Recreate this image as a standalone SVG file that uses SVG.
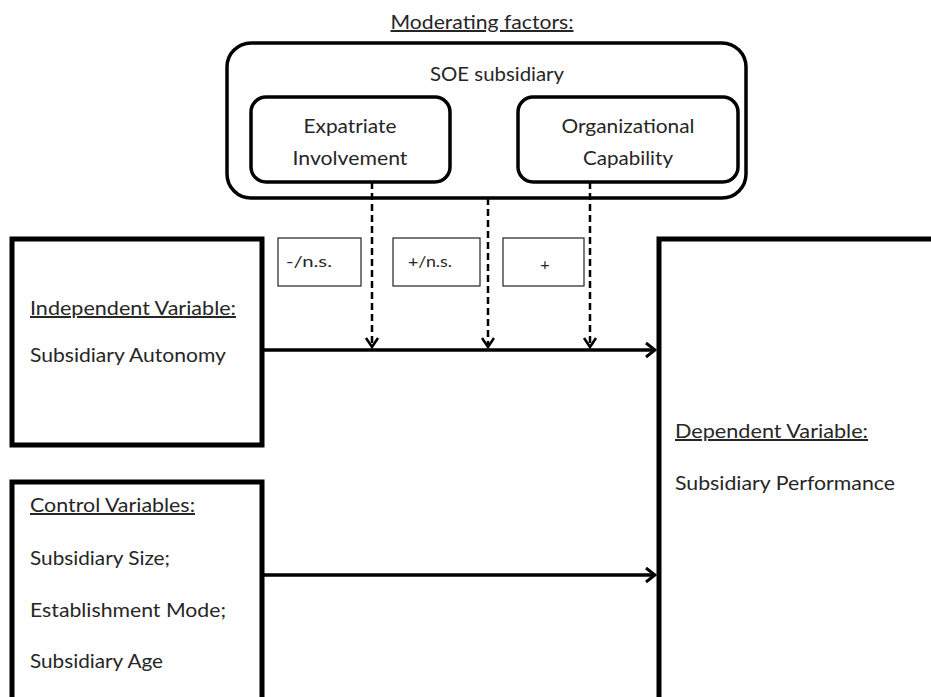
<svg xmlns="http://www.w3.org/2000/svg" width="931" height="697" viewBox="0 0 931 697">
<style>
  text { font-family: Lato, "Open Sans", "Liberation Sans", sans-serif; font-size: 20px; fill: #262626; }
  .small { font-size: 16px; }
  .ul { text-decoration: underline; }
  .mid { text-anchor: middle; }
  .thick { fill: none; stroke: #000; stroke-width: 5; }
  .round { fill: none; stroke: #000; stroke-width: 3.5; }
  .label { fill: #fff; stroke: #222; stroke-width: 1.2; }
  .solid { fill: none; stroke: #000; stroke-width: 3.5; }
  .dash { fill: none; stroke: #000; stroke-width: 2.5; stroke-dasharray: 7 4; }
</style>
<defs>
  <marker id="arrow" viewBox="-12 -10 14 20" refX="0" refY="0" markerWidth="14" markerHeight="20" markerUnits="userSpaceOnUse" orient="auto">
    <path d="M-9,-7 L0,0 L-9,7" fill="none" stroke="#000" stroke-width="3"/>
  </marker>
  <marker id="darrow" viewBox="-12 -10 14 20" refX="0" refY="0" markerWidth="14" markerHeight="20" markerUnits="userSpaceOnUse" orient="auto">
    <path d="M-9,-6 L0,0 L-9,6" fill="none" stroke="#000" stroke-width="2.5"/>
  </marker>
</defs>
<rect width="931" height="697" fill="#fff"/>

<text id="title" x="482" y="29" class="mid ul" textLength="183" lengthAdjust="spacingAndGlyphs">Moderating factors:</text>

<g id="soe">
  <rect x="227" y="43" width="519" height="155" rx="24" class="round"/>
  <text x="497" y="81" class="mid" textLength="134" lengthAdjust="spacingAndGlyphs">SOE subsidiary</text>
</g>
<g id="expatriate">
  <rect x="251" y="97" width="199" height="85" rx="15" class="round"/>
  <text x="350" y="133" class="mid" textLength="93" lengthAdjust="spacingAndGlyphs">Expatriate</text>
  <text x="350" y="165" class="mid" textLength="115" lengthAdjust="spacingAndGlyphs">Involvement</text>
</g>
<g id="organizational">
  <rect x="518" y="97" width="220" height="85" rx="15" class="round"/>
  <text x="628" y="133" class="mid" textLength="133" lengthAdjust="spacingAndGlyphs">Organizational</text>
  <text x="628" y="165" class="mid" textLength="90" lengthAdjust="spacingAndGlyphs">Capability</text>
</g>

<g id="label1">
  <rect x="278" y="238" width="83" height="48" class="label"/>
  <text x="286" y="267" class="small" textLength="46" lengthAdjust="spacingAndGlyphs">-/n.s.</text>
</g>
<g id="label2">
  <rect x="393" y="238" width="87" height="48" class="label"/>
  <text x="408" y="267" class="small" textLength="44" lengthAdjust="spacingAndGlyphs">+/n.s.</text>
</g>
<g id="label3">
  <rect x="503" y="238" width="81" height="48" class="label"/>
  <text x="545" y="270" class="small mid">+</text>
</g>

<g id="independent">
  <rect x="12" y="239" width="250" height="206" class="thick"/>
  <text x="30" y="315" class="ul" textLength="206" lengthAdjust="spacingAndGlyphs">Independent Variable:</text>
  <text x="30" y="362" textLength="196" lengthAdjust="spacingAndGlyphs">Subsidiary Autonomy</text>
</g>

<g id="control">
  <path d="M12,697 V482 H262 V697" class="thick"/>
  <text x="30" y="512" class="ul" textLength="165" lengthAdjust="spacingAndGlyphs">Control Variables:</text>
  <text x="30" y="565" textLength="140" lengthAdjust="spacingAndGlyphs">Subsidiary Size;</text>
  <text x="30" y="617" textLength="196" lengthAdjust="spacingAndGlyphs">Establishment Mode;</text>
  <text x="30" y="668" textLength="133" lengthAdjust="spacingAndGlyphs">Subsidiary Age</text>
</g>

<g id="dependent">
  <path d="M931,239 H659 V697" class="thick"/>
  <text x="675" y="438" class="ul" textLength="193" lengthAdjust="spacingAndGlyphs">Dependent Variable:</text>
  <text x="675" y="490" textLength="220" lengthAdjust="spacingAndGlyphs">Subsidiary Performance</text>
</g>

<g id="connectors">
  <line x1="262" y1="350" x2="655" y2="350" class="solid" marker-end="url(#arrow)"/>
  <line x1="262" y1="575" x2="655" y2="575" class="solid" marker-end="url(#arrow)"/>
  <line x1="372" y1="182" x2="372" y2="347" class="dash" marker-end="url(#darrow)"/>
  <line x1="488" y1="198" x2="488" y2="347" class="dash" marker-end="url(#darrow)"/>
  <line x1="590" y1="182" x2="590" y2="347" class="dash" marker-end="url(#darrow)"/>
</g>
</svg>
